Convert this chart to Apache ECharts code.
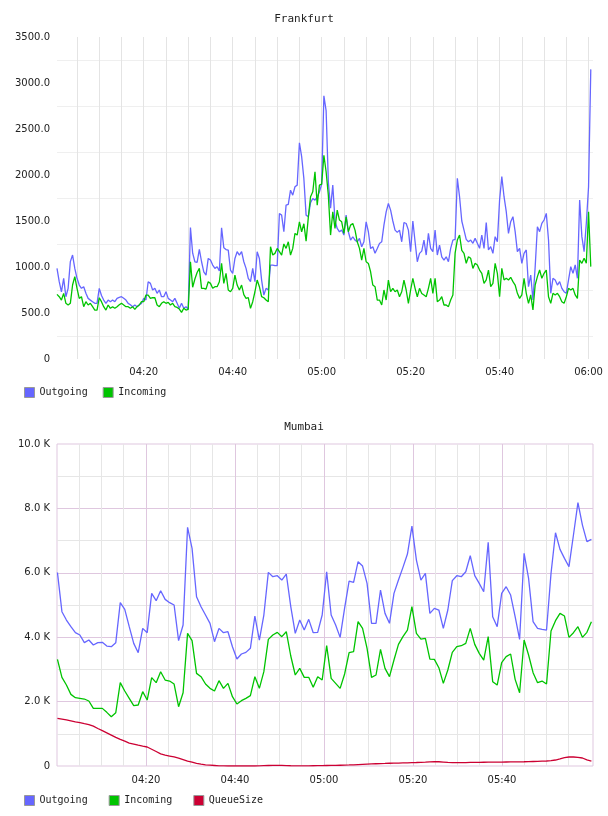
<!DOCTYPE html>
<html><head><meta charset="utf-8">
<script src="https://cdn.jsdelivr.net/npm/echarts@6/dist/echarts.min.js"></script>
<style>html,body{margin:0;padding:0;background:#fff}#c{width:608px;height:816px}</style>
</head><body><div id="c"></div>
<script>
// ---- Frankfurt (samples every 30 s, minutes after 04:00) ----
const frankfurtStartMin = 0.5;
const frankfurtStepMin = 0.5;
const frankfurtOutgoing = [
 985,840,730,877,677,768,1058,1130,985,877, 804,768,786,714,659,640,623,605,605,768,
 690,641,605,641,623,641,623,659,670,677, 660,641,605,590,569,587,569,590,605,659,
 641,840,822,750,768,714,750,677,677,732, 659,641,623,659,605,551,605,551,569,540,
 1430,1150,1057,1050,1191,1057,948,912,1093,1075, 1021,985,1003,956,1426,1210,1190,1184,967,930,
 1093,1166,1130,1166,1057,985,876,840,985,840, 1166,1093,858,695,768,750,1021,1021,1014,1014,
 1582,1564,1383,1672,1680,1835,1781,1872,1890,2350, 2200,1960,1564,1546,1700,1745,1727,1763,1817,1900,
 2860,2700,1926,1640,1890,1500,1419,1383,1401,1347, 1564,1383,1292,1329,1292,1274,1310,1220,1274,1491,
 1383,1200,1220,1150,1202,1256,1274,1455,1600,1690, 1618,1500,1401,1376,1401,1274,1484,1473,1401,1166,
 1500,1274,1057,1148,1173,1292,1130,1365,1202,1166, 1401,1130,1238,1111,1075,1111,1057,1202,1292,1300,
 1964,1764,1500,1400,1300,1275,1293,1257,1311,1257, 1203,1348,1203,1482,1185,1221,1148,1330,1275,1728,
 1982,1764,1601,1366,1493,1547,1384,1167,1203,1040, 1148,1185,786,913,641,1000,1438,1384,1475,1511,
 1583,1293,714,877,859,804,841,768,732,714, 859,1004,931,1022,877,1728,1330,1167,1475,1873,
 3148
];
const frankfurtIncoming = [
 702,677,641,713,605,587,605,804,895,768, 659,677,569,623,587,605,569,532,532,666,
 623,569,532,587,551,569,551,569,590,605, 587,569,569,551,569,540,569,587,623,623,
 695,695,659,666,666,587,569,605,623,605, 615,587,605,569,560,543,507,551,532,540,
 1057,780,870,940,985,768,768,760,840,822, 768,786,786,840,1039,822,930,750,731,768,
 912,804,750,804,700,659,666,550,623,731, 858,786,677,666,641,623,1220,1130,1148,1202,
 1166,1130,1250,1202,1274,1130,1202,1365,1347,1491, 1383,1470,1281,1540,1763,1817,2035,1672,1890,1900,
 2215,2035,1781,1347,1600,1419,1618,1510,1491,1365, 1546,1383,1455,1473,1401,1274,1202,1075,1202,1057,
 1039,948,804,786,641,641,587,750,641,858, 731,768,731,750,677,731,858,750,605,750,
 876,768,677,768,713,695,677,768,876,713, 876,623,641,677,587,587,569,641,695,1150,
 1293,1348,1180,1148,1040,1112,1094,985,1040,1022, 967,931,822,859,967,786,822,1040,931,677,
 985,859,877,859,888,841,804,714,659,696, 877,714,605,696,533,804,895,967,877,931,
 967,677,605,714,696,714,677,623,605,677, 768,750,768,696,659,1076,1040,1094,1040,1601,
 1004
];
const frankfurtGridMinutes = [5,10,15,20,25,30,35,40,45,50,55,60,65,70,75,80,85,90,95,100,105,110,115,120];
const frankfurtLabelMinutes = [20,40,60,80,100,120];
const frankfurtValueLabels = [0,500,1000,1500,2000,2500,3000,3500];
const frankfurtValueGrid = [250,750,1250,1750,2250,2750,3250];

// ---- Mumbai (samples about every minute) ----
const mumbaiStartMin = 0.1;
const mumbaiStepMin = 60.5 / 60;
const mumbaiOutgoing = [
 6010,4792,4533,4326,4140,4068,3830,3912,3757,3830,
 3840,3726,3705,3830,5072,4865,4326,3809,3519,4275,
 4140,5361,5134,5444,5175,5072,4999,3892,4378,7411,
 6759,5258,4947,4689,4430,3861,4275,4140,4171,3705,
 3322,3478,3529,3654,4658,3912,4689,6013,5879,5910,
 5775,5962,4950,4119,4533,4223,4554,4140,4150,4689,
 6034,4689,4378,3995,4900,5744,5703,6345,6210,5672,
 4430,4430,5465,4740,4430,5361,5775,6169,6583,7452,
 6396,5775,5982,4740,4895,4844,4275,4844,5755,5910,
 5879,6034,6531,5910,5672,5413,6945,4637,4326,5361,
 5568,5310,4637,3933,6603,5827,4482,4275,4244,4223,
 5982,7245,6728,6448,6189,7173,8177,7483,6966,7038
];
const mumbaiIncoming = [
 3312,2753,2515,2225,2122,2101,2080,2018,1790,1790,
 1790,1666,1532,1656,2588,2329,2101,1873,1894,2308,
 2049,2743,2588,2929,2670,2639,2546,1842,2277,4119,
 3892,2877,2774,2546,2412,2329,2650,2412,2567,2153,
 1925,2029,2101,2184,2774,2412,2929,3933,4068,4150,
 4016,4171,3416,2826,3033,2753,2753,2443,2774,2670,
 3736,2722,2567,2412,2857,3519,3550,4482,4275,3654,
 2753,2826,3622,3033,2774,3291,3778,4016,4223,4947,
 4119,3943,3964,3322,3312,3053,2567,2981,3529,3705,
 3736,3809,4275,3778,3498,3291,4016,2619,2515,3209,
 3395,3478,2691,2277,3912,3447,2898,2588,2639,2546,
 4192,4513,4740,4658,3995,4140,4326,3995,4150,4482
];
const mumbaiQueueSize = [
 1480,1455,1430,1400,1370,1346,1315,1285,1240,1165,
 1100,1030,960,890,825,770,710,680,645,615,
 590,520,450,375,340,310,280,245,200,155,
 120,83,55,35,25,15,5,2,0,0,
 0,0,0,0,0,5,10,15,20,22,
 18,12,8,5,5,5,6,8,10,12,
 15,18,20,24,28,32,38,45,52,58,
 64,70,76,80,85,88,92,96,100,104,
 108,115,122,130,135,132,122,112,106,104,
 105,107,110,112,114,116,118,120,121,122,
 124,126,128,130,132,135,140,145,150,155,
 170,186,220,260,279,279,270,248,190,150
];
const mumbaiGridMinutes = [5,10,15,20,25,30,35,40,45,50,55,60,65,70,75,80,85,90,95,100,105,110,115];
const mumbaiLabelMinutes = [20,40,60,80,100];
const mumbaiValueGrid = [1000,2000,3000,4000,5000,6000,7000,8000,9000];
const mumbaiValueLabels = [0,2000,4000,6000,8000,10000];

const seriesNames = ['Outgoing', 'Incoming', 'QueueSize'];

function pad(n){ return (n < 10 ? '0' : '') + n; }
function fmtTime(m){ const t = Math.round(m); return pad(4 + Math.floor(t / 60)) + ':' + pad(t % 60); }
function toPairs(arr, start, step){ return arr.map((v, i) => [start + i * step, v]); }

const BLUE = '#6666ff', GREEN = '#00c400', RED = '#cc0033';
const PINK = '#dfc7df', GREY = '#e6e6e6';
const labelText = { fontFamily: 'DejaVu Sans', fontSize: 10, color: '#222' };
const monoText = { fontFamily: 'DejaVu Sans Mono', fontSize: 10, color: '#222' };
const titleText = { fontFamily: 'DejaVu Sans Mono', fontSize: 11, fontWeight: 'normal', color: '#222' };
const lineBase = { type: 'line', showSymbol: false, symbol: 'none', animation: false };

const chart = echarts.init(document.getElementById('c'), null, { renderer: 'canvas' });
chart.setOption({
  animation: false,
  backgroundColor: '#fff',
  title: [
    { text: 'Frankfurt', left: 'center', top: 14, padding: 0, textStyle: titleText },
    { text: 'Mumbai', left: 'center', top: 422, padding: 0, textStyle: titleText }
  ],
  legend: [
    { data: seriesNames.slice(0, 2), left: 24, top: 387, padding: 0, itemWidth: 10, itemHeight: 10, itemGap: 15,
      icon: 'rect', selectedMode: false, itemStyle: { borderColor: '#999', borderWidth: 1 }, textStyle: monoText },
    { data: seriesNames, left: 24, top: 795, padding: 0, itemWidth: 10, itemHeight: 10, itemGap: 21,
      icon: 'rect', selectedMode: false, itemStyle: { borderColor: '#999', borderWidth: 1 }, textStyle: monoText }
  ],
  grid: [
    { left: 57, top: 37, width: 536, height: 322, show: false },
    { left: 57, top: 444, width: 536, height: 322, show: true, borderColor: PINK, borderWidth: 1, backgroundColor: 'transparent' }
  ],
  xAxis: [
    { gridIndex: 0, type: 'value', min: 0.5, max: 121,
      axisLine: { show: false }, axisTick: { show: false, customValues: frankfurtGridMinutes },
      axisLabel: Object.assign({ customValues: frankfurtLabelMinutes, formatter: fmtTime, margin: 8 }, labelText),
      splitLine: { show: true, lineStyle: { color: '#e4e4e4', width: 1 } } },
    { gridIndex: 1, type: 'value', min: 0, max: 120.45,
      axisLine: { show: false }, axisTick: { show: false, customValues: mumbaiGridMinutes },
      axisLabel: Object.assign({ customValues: mumbaiLabelMinutes, formatter: fmtTime, margin: 9 }, labelText),
      splitLine: { show: true, lineStyle: { color: [GREY, GREY, GREY, PINK], width: 1 } } }
  ],
  yAxis: [
    { gridIndex: 0, type: 'value', min: 0, max: 3500,
      axisLine: { show: false }, axisTick: { show: false, customValues: frankfurtValueGrid },
      axisLabel: Object.assign({ customValues: frankfurtValueLabels, margin: 7,
        formatter: v => v === 0 ? '0' : v.toFixed(1) }, labelText),
      splitLine: { show: true, lineStyle: { color: '#efefef', width: 1 } } },
    { gridIndex: 1, type: 'value', min: 0, max: 10000,
      axisLine: { show: false }, axisTick: { show: false, customValues: mumbaiValueGrid },
      axisLabel: Object.assign({ customValues: mumbaiValueLabels, margin: 7,
        formatter: v => v === 0 ? '0' : (v / 1000).toFixed(1) + ' K' }, labelText),
      splitLine: { show: true, lineStyle: { color: [GREY, PINK], width: 1 } } }
  ],
  series: [
    Object.assign({ name: 'Outgoing', xAxisIndex: 0, yAxisIndex: 0, color: BLUE, lineStyle: { width: 1.3, color: BLUE },
      data: toPairs(frankfurtOutgoing, frankfurtStartMin, frankfurtStepMin) }, lineBase),
    Object.assign({ name: 'Incoming', xAxisIndex: 0, yAxisIndex: 0, color: GREEN, lineStyle: { width: 1.3, color: GREEN },
      data: toPairs(frankfurtIncoming, frankfurtStartMin, frankfurtStepMin) }, lineBase),
    Object.assign({ name: 'Outgoing', xAxisIndex: 1, yAxisIndex: 1, color: BLUE, lineStyle: { width: 1.3, color: BLUE },
      data: toPairs(mumbaiOutgoing, mumbaiStartMin, mumbaiStepMin) }, lineBase),
    Object.assign({ name: 'Incoming', xAxisIndex: 1, yAxisIndex: 1, color: GREEN, lineStyle: { width: 1.3, color: GREEN },
      data: toPairs(mumbaiIncoming, mumbaiStartMin, mumbaiStepMin) }, lineBase),
    Object.assign({ name: 'QueueSize', xAxisIndex: 1, yAxisIndex: 1, color: RED, lineStyle: { width: 1.3, color: RED },
      data: toPairs(mumbaiQueueSize, mumbaiStartMin, mumbaiStepMin) }, lineBase)
  ]
});
</script>
</body></html>
